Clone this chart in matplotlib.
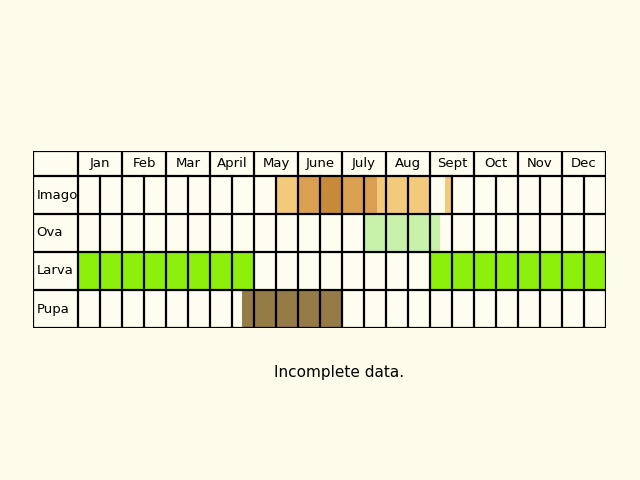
import matplotlib
matplotlib.use("Agg")
import matplotlib.pyplot as plt
from matplotlib.patches import Rectangle

months = ["Jan","Feb","Mar","Apr" if False else "April","May","June","July","Aug","Sept","Oct","Nov","Dec"]
stages = ["Imago","Ova","Larva","Pupa"]
# periods: (stage, start_month, end_month, color)
imago = [(4.52,5.0,"#f3c97c"),(5.0,5.5,"#d9a052"),(5.5,6.0,"#c68b3a"),(6.0,6.8,"#d9a052"),
         (6.8,8.0,"#f3c97c"),(8.34,8.48,"#f3c97c")]
ova = [(6.52,8.23,"#c8f2aa")]
larva = [(0.0,4.0,"#8cf00a"),(8.0,12.0,"#8cf00a")]
pupa = [(3.73,6.0,"#957b45")]
periods = [imago, ova, larva, pupa]

bg = "#fdfbe9"
fig = plt.figure(figsize=(6.4,4.8), dpi=100, facecolor=bg)
W, H = 640, 480
x0, x1, y0, y1 = 33, 606, 151, 328
ax = fig.add_axes([x0/W, 1-y1/H, (x1-x0)/W, (y1-y0)/H])
ax.set_facecolor(bg)
lab = 45/44
ax.set_xlim(-lab, 12)
hdr, rh = 25, 38
ax.set_ylim(hdr+4*rh, 0)
ax.axis("off")
# cell background
ax.add_patch(Rectangle((-lab,0), 12+lab, hdr+4*rh, facecolor="#fffdf0", edgecolor="none"))
for r, segs in enumerate(periods):
    for s,e,c in segs:
        ax.add_patch(Rectangle((s, hdr+r*rh), e-s, rh, facecolor=c, edgecolor="none"))
lw = 1.6
# horizontal lines
for y in [0, hdr] + [hdr+(r+1)*rh for r in range(4)]:
    ax.plot([-lab,12],[y,y],color="black",lw=lw,solid_capstyle="projecting")
ax.plot([-lab,-lab],[0,hdr+4*rh],color="black",lw=lw)
for m in range(13):
    ax.plot([m,m],[0,hdr+4*rh],color="black",lw=lw)
for m in range(12):
    ax.plot([m+0.5,m+0.5],[hdr,hdr+4*rh],color="black",lw=lw)
    ax.text(m+0.5, hdr/2, months[m], ha="center", va="center", fontsize=9.5)
for r, s in enumerate(stages):
    ax.text(-lab+0.08, hdr+r*rh+rh/2, s, ha="left", va="center", fontsize=9.5)
fig.text(339/W, 1-372/H, "Incomplete data.", ha="center", va="center", fontsize=11)
fig.savefig("out.png", dpi=100, facecolor=bg)
